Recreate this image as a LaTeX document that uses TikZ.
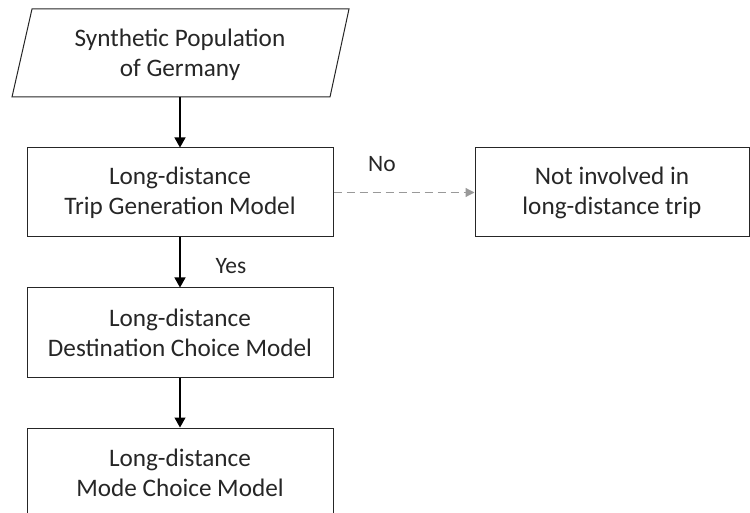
\documentclass[tikz,border=0pt]{standalone}
\usepackage{fontspec}
\setmainfont{Carlito}
\usetikzlibrary{arrows.meta}
\begin{document}
\begin{tikzpicture}[x=1pt,y=-1pt,
  every node/.style={font=\fontsize{25.2}{30}\selectfont, text=black!85, align=center},
  flowbox/.style={draw=black!85, line width=1pt, rectangle, minimum width=306pt, minimum height=89pt, inner sep=0pt},
  flowarrow/.style={draw=black, line width=1.2pt, -{Triangle[width=11pt,length=10pt]}},
  noarrow/.style={draw=black!40, line width=1.2pt, dash pattern=on 8pt off 5pt, -{Triangle[width=9pt,length=9pt]}},
  lbl/.style={font=\fontsize{23.5}{28}\selectfont}]
\clip (0,0) rectangle (750,513);
\useasboundingbox (0,0) rectangle (750,513);
% parallelogram
\draw[draw=black!85, line width=1pt] (32,9) -- (349,9) -- (330,97) -- (12,97) -- cycle;
\node (pop) at (180,55) {Synthetic Population\\of Germany};
\coordinate (popb) at (180,97);
\node[flowbox] (gen) at (180,192.5) {Long-distance\\Trip Generation Model};
\node[flowbox, minimum width=274pt] (not) at (612,192.5) {Not involved in\\long-distance trip};
\node[flowbox] (dest) at (180,332.5) {Long-distance\\Destination Choice Model};
\node[flowbox] (mode) at (180,472.5) {Long-distance\\Mode Choice Model};
\draw[flowarrow] (popb) -- (gen.north);
\draw[flowarrow] (gen.south) -- (dest.north);
\draw[flowarrow] (dest.south) -- (mode.north);
\draw[noarrow] (gen.east) -- (not.west);
\node[lbl, anchor=base] (no) at (382,172) {No};
\node[lbl, anchor=base] (yes) at (231,273) {Yes};
\end{tikzpicture}
\end{document}
